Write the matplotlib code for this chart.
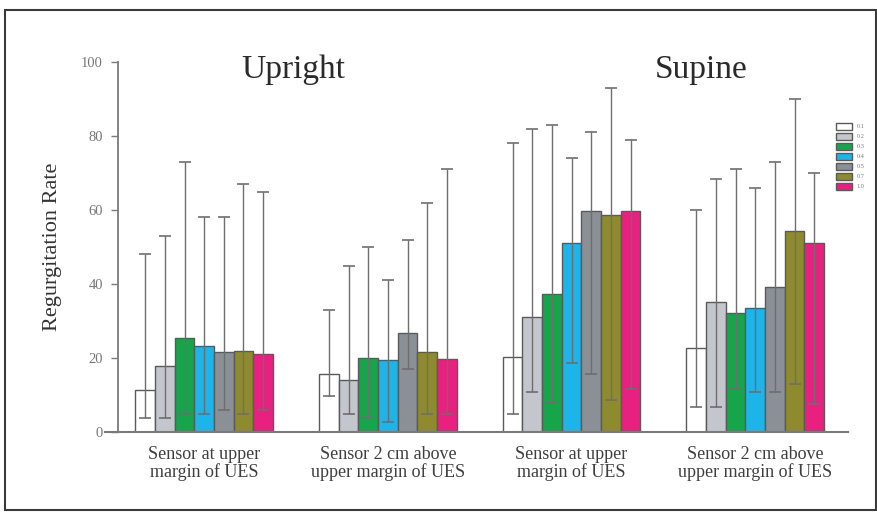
import matplotlib.pyplot as plt
import matplotlib.patches as patches
import numpy as np

plt.rcParams['font.family'] = ['Liberation Serif', 'DejaVu Serif']
SERIF = ['Liberation Serif', 'DejaVu Serif']

groups = ['Sensor at upper\nmargin of UES', 'Sensor 2 cm above\nupper margin of UES',
          'Sensor at upper\nmargin of UES', 'Sensor 2 cm above\nupper margin of UES']
series = ['0.1', '0.2', '0.3', '0.4', '0.5', '0.7', '1.0']
colors = ['#ffffff', '#c3c6cc', '#17a54b', '#1db4ea', '#8b9097', '#8d8b2d', '#e8207f']

# mean regurgitation rate, one row per series, one column per group
means = [
    [11.4, 15.6, 20.4, 22.6],
    [17.9, 14.0, 31.2, 35.2],
    [25.3, 20.1, 37.3, 32.1],
    [23.2, 19.5, 51.2, 33.6],
    [21.7, 26.7, 59.8, 39.3],
    [21.9, 21.7, 58.6, 54.3],
    [21.0, 19.7, 59.8, 51.2],
]
lower = [
    [3.9, 9.8, 4.9, 6.8],
    [3.9, 4.8, 10.9, 6.8],
    [4.8, 3.7, 7.9, 11.6],
    [4.8, 2.6, 18.7, 10.7],
    [5.9, 17.0, 15.7, 10.7],
    [4.8, 4.8, 8.6, 12.9],
    [5.9, 4.8, 11.5, 7.7],
]
upper = [
    [48, 33, 78, 60],
    [53, 45, 82, 68.5],
    [73, 50, 83, 71],
    [58, 41, 74, 66],
    [58, 52, 81, 73],
    [67, 62, 93, 90],
    [65, 71, 79, 70],
]

fig = plt.figure(figsize=(8.77, 5.12), dpi=100)
ax = fig.add_axes([105 / 877, 80 / 512, 743 / 877, 370 / 512])

x = np.arange(len(groups))
width = 0.107
for i, name in enumerate(series):
    pos = x + (i - 3) * width
    m = np.array(means[i])
    lo = m - np.array(lower[i])
    hi = np.array(upper[i]) - m
    ax.bar(pos, m, width, color=colors[i], edgecolor='#5a5a5a', linewidth=1.0,
           label=name, zorder=2)
    ax.errorbar(pos, m, yerr=[lo, hi], fmt='none', ecolor='#6e6e6e',
                elinewidth=1.0, capsize=4.5, capthick=1.2, zorder=3)

ax.set_xlim(-0.54, 3.505)
ax.set_ylim(0, 100)

for s in ['top', 'right']:
    ax.spines[s].set_visible(False)
ax.spines['left'].set_position(('data', -0.468))
ax.spines['left'].set_color('#7a7a7a')
ax.spines['left'].set_linewidth(1.3)
ax.spines['bottom'].set_color('#7a7a7a')
ax.spines['bottom'].set_linewidth(1.5)

ax.set_yticks([0, 20, 40, 60, 80, 100])
ax.tick_params(axis='y', direction='out', length=5, width=1, color='#7a7a7a',
               labelsize=10.5, labelcolor='#777777', pad=6)
ax.set_xticks(x)
ax.set_xticklabels(groups, fontsize=13, color='#3f3f3f', linespacing=1.0,
                   family=SERIF)
ax.tick_params(axis='x', length=0, pad=10)

ax.set_ylabel('Regurgitation Rate', fontsize=16, color='#333333', labelpad=14,
              family=SERIF)

ax.text(0.484, 98, 'Upright', fontsize=24, color='#2a2a2a', ha='center',
        va='center', family=SERIF)
ax.text(2.706, 98, 'Supine', fontsize=24, color='#2a2a2a', ha='center',
        va='center', family=SERIF)

fig.legend(loc='upper left', bbox_to_anchor=(830 / 877, 1 - 117 / 512),
           frameon=False, fontsize=4.5, handlelength=2.6, handleheight=1.4,
           labelspacing=0.45, handletextpad=0.8, labelcolor='#777777')

# outer frame around the whole figure
fig.patches.append(patches.Rectangle((5 / 877, 2 / 512), 871 / 877, 500 / 512,
                                     transform=fig.transFigure, fill=False,
                                     edgecolor='#3a3a3a', linewidth=1.5))

fig.savefig('out.png', dpi=100)
